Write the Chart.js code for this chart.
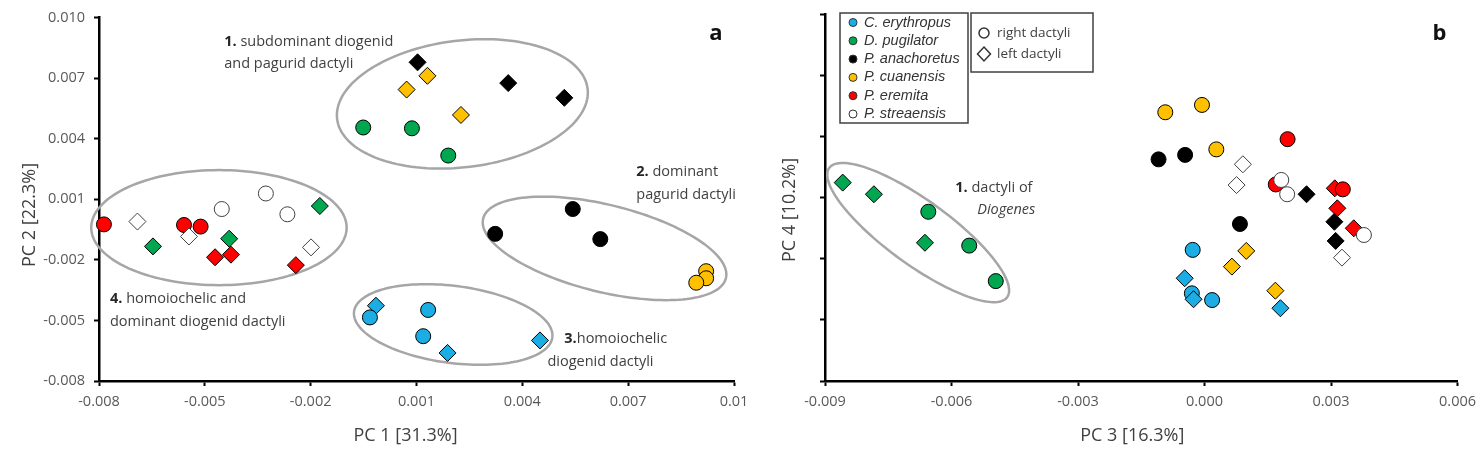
<!DOCTYPE html>
<html>
<head>
<meta charset="utf-8">
<script src="https://cdn.jsdelivr.net/npm/chart.js@4.4.1/dist/chart.umd.min.js"></script>
<style>
  html, body { margin: 0; padding: 0; background: #fff; }
  #wrap { position: relative; width: 1483px; height: 454px; overflow: hidden; }
  canvas { position: absolute; top: 0; }
  #chart-a { left: 0; }
  #chart-b { left: 760px; }
</style>
</head>
<body>
<div id="wrap">
  <canvas id="chart-a" width="760" height="454"></canvas>
  <canvas id="chart-b" width="723" height="454"></canvas>
</div>
<script>
// species, colours
const species = ['C. erythropus', 'D. pugilator', 'P. anachoretus', 'P. cuanensis', 'P. eremita', 'P. streaensis'];
const speciesColors = ['#1cade4', '#00a650', '#000000', '#ffc000', '#ff0000', '#ffffff'];
const sideLabels = ['right dactyli', 'left dactyli'];

// panel a: PC1 (x) vs PC2 (y); R = right dactyli (circles), L = left dactyli (diamonds)
const aErythropusR = [[-0.00032, -0.00485], [0.00133, -0.00448], [0.00119, -0.00578]];
const aErythropusL = [[-0.00015, -0.00427], [0.00188, -0.00661], [0.00450, -0.00599]];
const aPugilatorR = [[-0.00051, 0.00456], [0.00087, 0.00452], [0.00190, 0.00317]];
const aPugilatorL = [[-0.00647, -0.00133], [-0.00431, -0.00095], [-0.00174, 0.00067]];
const aAnachoretusR = [[0.00543, 0.00052], [0.00323, -0.00071], [0.00621, -0.00097]];
const aAnachoretusL = [[0.00103, 0.00779], [0.00360, 0.00676], [0.00519, 0.00603]];
const aCuanensisR = [[0.00921, -0.00256], [0.00921, -0.00291], [0.00893, -0.00313]];
const aCuanensisL = [[0.00131, 0.00712], [0.00072, 0.00644], [0.00226, 0.00518]];
const aEremitaR = [[-0.00786, -0.00024], [-0.00559, -0.00027], [-0.00512, -0.00035]];
const aEremitaL = [[-0.00471, -0.00187], [-0.00426, -0.00174], [-0.00242, -0.00226]];
const aStreaensisR = [[-0.00452, 0.00052], [-0.00327, 0.00129], [-0.00266, 0.00026]];
const aStreaensisL = [[-0.00691, -0.00010], [-0.00545, -0.00084], [-0.00199, -0.00138]];

// panel b: PC3 (x) vs PC4 (y)
const bErythropusR = [[-0.00028, -0.00257], [-0.00030, -0.00470], [0.00018, -0.00503]];
const bErythropusL = [[-0.00047, -0.00396], [-0.00026, -0.00499], [0.00180, -0.00543]];
const bPugilatorR = [[-0.00655, -0.00070], [-0.00558, -0.00236], [-0.00495, -0.00410]];
const bPugilatorL = [[-0.00858, 0.00073], [-0.00784, 0.00016], [-0.00663, -0.00222]];
const bAnachoretusR = [[-0.00109, 0.00187], [-0.00046, 0.00209], [0.00084, -0.00130]];
const bAnachoretusL = [[0.00242, 0.00016], [0.00308, -0.00119], [0.00311, -0.00213]];
const bCuanensisR = [[-0.00093, 0.00418], [-0.00006, 0.00454], [0.00028, 0.00236]];
const bCuanensisL = [[0.00099, -0.00262], [0.00065, -0.00339], [0.00168, -0.00457]];
const bEremitaR = [[0.00197, 0.00286], [0.00169, 0.00064], [0.00328, 0.00040]];
const bEremitaL = [[0.00309, 0.00045], [0.00315, -0.00053], [0.00354, -0.00151]];
const bStreaensisR = [[0.00182, 0.00086], [0.00196, 0.00016], [0.00378, -0.00184]];
const bStreaensisL = [[0.00091, 0.00163], [0.00076, 0.00061], [0.00326, -0.00295]];

// ticks
const xTicksA = [-0.008, -0.005, -0.002, 0.001, 0.004, 0.007, 0.01];
const xTickLabelsA = ['-0.008', '-0.005', '-0.002', '0.001', '0.004', '0.007', '0.01'];
const yTicksA = [-0.008, -0.005, -0.002, 0.001, 0.004, 0.007, 0.010];
const yTickLabelsA = ['-0.008', '-0.005', '-0.002', '0.001', '0.004', '0.007', '0.010'];
const xTicksB = [-0.009, -0.006, -0.003, 0, 0.003, 0.006];
const xTickLabelsB = ['-0.009', '-0.006', '-0.003', '0.000', '0.003', '0.006'];
const yTicksB = [-0.009, -0.006, -0.003, 0, 0.003, 0.006, 0.009];

// group ellipses: centre, and two conjugate half-axes, all in data units
const aEllipses = [
  { c: [0.00230, 0.00573], u: [0.00355, 0.000755], v: [0.000221, -0.003114] },
  { c: [0.00633, -0.00143], u: [0.00344, -0.00148], v: [-0.000301, -0.002094] },
  { c: [0.00204, -0.00520], u: [0.00281, -0.000642], v: [-0.000145, -0.001893] },
  { c: [-0.00460, -0.00040], u: [0.00362, 0], v: [0, -0.00285] }
];
const bEllipses = [
  { c: [-0.00679, -0.00172], u: [0.00211, -0.00317], v: [-0.000446, -0.00127] }
];

const aNotes = [
  { x: -0.00445, y: 0.00882, b: '1.', t: ' subdominant diogenid' },
  { x: -0.00445, y: 0.00770, t: 'and pagurid dactyli' },
  { x: 0.00723, y: 0.00235, b: '2.', t: ' dominant' },
  { x: 0.00723, y: 0.00122, t: 'pagurid dactyli' },
  { x: 0.00519, y: -0.00589, b: '3.', t: 'homoiochelic' },
  { x: 0.00471, y: -0.00707, t: 'diogenid dactyli' },
  { x: -0.00769, y: -0.00393, b: '4.', t: ' homoiochelic and' },
  { x: -0.00769, y: -0.00506, t: 'dominant diogenid dactyli' }
];
const bNotes = [
  { x: -0.00591, y: 0.00047, b: '1.', t: ' dactyli of' },
  { x: -0.00539, y: -0.00061, t: 'Diogenes', it: true }
];

const FONT = "'Open Sans', sans-serif";
Chart.defaults.font.family = FONT;

function ds(points, sp, side, order) {
  const right = side === 'R';
  return {
    label: species[sp] + ' ' + (right ? sideLabels[0] : sideLabels[1]),
    data: points.map(p => ({ x: p[0], y: p[1] })),
    pointStyle: right ? 'circle' : 'rectRot',
    pointRadius: right ? 7.5 : 8.5,
    pointHoverRadius: right ? 7.5 : 8.5,
    backgroundColor: speciesColors[sp],
    borderColor: sp === 5 ? '#404040' : '#000',
    borderWidth: 1,
    clip: false,
    order
  };
}

function makeDecor(cfg) {
  return {
    id: 'decor',
    beforeDatasetsDraw(chart) {
      const { ctx, scales: { x, y } } = chart;
      ctx.save();
      ctx.strokeStyle = '#a6a6a6';
      ctx.lineWidth = 2.5;
      cfg.ellipses.forEach(e => {
        ctx.beginPath();
        for (let k = 0; k <= 144; k++) {
          const t = k / 144 * Math.PI * 2;
          const px = x.getPixelForValue(e.c[0] + e.u[0] * Math.cos(t) + e.v[0] * Math.sin(t));
          const py = y.getPixelForValue(e.c[1] + e.u[1] * Math.cos(t) + e.v[1] * Math.sin(t));
          if (k === 0) ctx.moveTo(px, py); else ctx.lineTo(px, py);
        }
        ctx.closePath();
        ctx.stroke();
      });
      ctx.textBaseline = 'middle';
      ctx.textAlign = 'left';
      cfg.notes.forEach(n => {
        let px = x.getPixelForValue(n.x);
        const py = y.getPixelForValue(n.y);
        if (n.b) {
          ctx.font = 'bold 14.5px ' + FONT;
          ctx.fillStyle = '#262626';
          ctx.fillText(n.b, px, py);
          px += ctx.measureText(n.b).width;
        }
        ctx.font = (n.it ? 'italic ' : '') + '14.5px ' + FONT;
        ctx.fillStyle = '#404040';
        ctx.fillText(n.t, px, py);
      });
      ctx.restore();
    },
    afterDraw(chart) {
      const { ctx, chartArea: ca } = chart;
      ctx.save();
      ctx.fillStyle = '#404040';
      ctx.font = '18px ' + FONT;
      ctx.textAlign = 'center';
      ctx.textBaseline = 'middle';
      ctx.fillText(cfg.xTitle, (ca.left + ca.right) / 2 + cfg.xTitleShift, 436);
      ctx.save();
      ctx.translate(ca.left + cfg.yTitleDx, cfg.yTitleY);
      ctx.rotate(-Math.PI / 2);
      ctx.fillText(cfg.yTitle, 0, 0);
      ctx.restore();
      ctx.fillStyle = '#111';
      ctx.font = 'bold 22px ' + FONT;
      ctx.fillText(cfg.panel, ca.right - 18, 34);
      if (cfg.legend) drawLegend(ctx, ca);
      ctx.restore();
    }
  };
}

function drawLegend(ctx, ca) {
  const x0 = ca.left + 15;
  ctx.lineWidth = 1.5;
  ctx.strokeStyle = '#404040';
  ctx.fillStyle = '#fff';
  ctx.fillRect(x0, 13, 128, 110);
  ctx.strokeRect(x0, 13, 128, 110);
  ctx.fillRect(x0 + 131, 13, 122, 59);
  ctx.strokeRect(x0 + 131, 13, 122, 59);
  ctx.textAlign = 'left';
  ctx.textBaseline = 'middle';
  species.forEach((s, i) => {
    const yy = 22.5 + i * 18.3;
    ctx.beginPath();
    ctx.arc(x0 + 13, yy, 4, 0, Math.PI * 2);
    ctx.fillStyle = speciesColors[i];
    ctx.fill();
    ctx.lineWidth = 1;
    ctx.strokeStyle = '#333';
    ctx.stroke();
    ctx.fillStyle = '#333';
    ctx.font = 'italic 14.5px "Liberation Sans", Arial, sans-serif';
    ctx.fillText(s, x0 + 24, yy);
  });
  const sx = x0 + 144;
  ctx.lineWidth = 1.5;
  ctx.strokeStyle = '#333';
  ctx.beginPath();
  ctx.arc(sx, 33, 5, 0, Math.PI * 2);
  ctx.stroke();
  ctx.beginPath();
  ctx.moveTo(sx, 47); ctx.lineTo(sx + 6.5, 54); ctx.lineTo(sx, 61); ctx.lineTo(sx - 6.5, 54);
  ctx.closePath();
  ctx.stroke();
  ctx.fillStyle = '#404040';
  ctx.font = '13.5px ' + FONT;
  ctx.fillText(sideLabels[0], sx + 13, 33);
  ctx.fillText(sideLabels[1], sx + 13, 54);
}

function axes(xMin, xMax, xTicks, xLabels, yMin, yMax, yTicks, yLabels, yWidth) {
  const tickFont = { family: FONT, size: 14.5 };
  return {
    x: {
      type: 'linear', min: xMin, max: xMax,
      afterBuildTicks: s => { s.ticks = xTicks.map(v => ({ value: v })); },
      afterFit: s => { s.height = 73; },
      ticks: { callback: (v, i) => xLabels[i], font: tickFont, color: '#595959', padding: 7, maxRotation: 0, autoSkip: false },
      grid: { drawOnChartArea: false, drawTicks: true, tickLength: 5, tickColor: '#000', tickWidth: 2 },
      border: { color: '#000', width: 2.5 }
    },
    y: {
      type: 'linear', min: yMin, max: yMax,
      afterBuildTicks: s => { s.ticks = yTicks.map(v => ({ value: v })); },
      afterFit: s => { s.width = yWidth; },
      ticks: yLabels
        ? { callback: (v, i) => yLabels[i], font: tickFont, color: '#595959', padding: 9, autoSkip: false }
        : { display: false },
      grid: { drawOnChartArea: false, drawTicks: true, tickLength: 5, tickColor: '#000', tickWidth: 2 },
      border: { color: '#000', width: 2.5 }
    }
  };
}

const baseOptions = {
  responsive: false,
  animation: false,
  devicePixelRatio: 1,
  plugins: { legend: { display: false }, tooltip: { enabled: false } },
  events: []
};

new Chart(document.getElementById('chart-a'), {
  type: 'scatter',
  data: {
    datasets: [
      ds(aErythropusR, 0, 'R', 2), ds(aErythropusL, 0, 'L', 6),
      ds(aPugilatorR, 1, 'R', 3), ds(aPugilatorL, 1, 'L', 3),
      ds(aAnachoretusR, 2, 'R', 3), ds(aAnachoretusL, 2, 'L', 3),
      ds(aCuanensisR, 3, 'R', 3), ds(aCuanensisL, 3, 'L', 3),
      ds(aEremitaR, 4, 'R', 5), ds(aEremitaL, 4, 'L', 3),
      ds(aStreaensisR, 5, 'R', 3), ds(aStreaensisL, 5, 'L', 1)
    ]
  },
  options: {
    ...baseOptions,
    layout: { padding: { top: 14, right: 26, left: 0, bottom: 0 } },
    scales: axes(-0.008, 0.01, xTicksA, xTickLabelsA, -0.008, 0.010, yTicksA, yTickLabelsA, 99)
  },
  plugins: [makeDecor({
    ellipses: aEllipses, notes: aNotes, panel: 'a',
    xTitle: 'PC 1 [31.3%]', xTitleShift: -11,
    yTitle: 'PC 2 [22.3%]', yTitleDx: -69, yTitleY: 215
  })]
});

new Chart(document.getElementById('chart-b'), {
  type: 'scatter',
  data: {
    datasets: [
      ds(bErythropusR, 0, 'R', 6), ds(bErythropusL, 0, 'L', 2),
      ds(bPugilatorR, 1, 'R', 4), ds(bPugilatorL, 1, 'L', 4),
      ds(bAnachoretusR, 2, 'R', 4), ds(bAnachoretusL, 2, 'L', 4),
      ds(bCuanensisR, 3, 'R', 4), ds(bCuanensisL, 3, 'L', 4),
      ds(bEremitaR, 4, 'R', 1), ds(bEremitaL, 4, 'L', 7),
      ds(bStreaensisR, 5, 'R', 0), ds(bStreaensisL, 5, 'L', 4)
    ]
  },
  options: {
    ...baseOptions,
    layout: { padding: { top: 14, right: 25, left: 0, bottom: 0 } },
    scales: axes(-0.009, 0.006, xTicksB, xTickLabelsB, -0.009, 0.009, yTicksB, null, 65)
  },
  plugins: [makeDecor({
    ellipses: bEllipses, notes: bNotes, panel: 'b', legend: true,
    xTitle: 'PC 3 [16.3%]', xTitleShift: -9,
    yTitle: 'PC 4 [10.2%]', yTitleDx: -35, yTitleY: 210
  })]
});
</script>
</body>
</html>
